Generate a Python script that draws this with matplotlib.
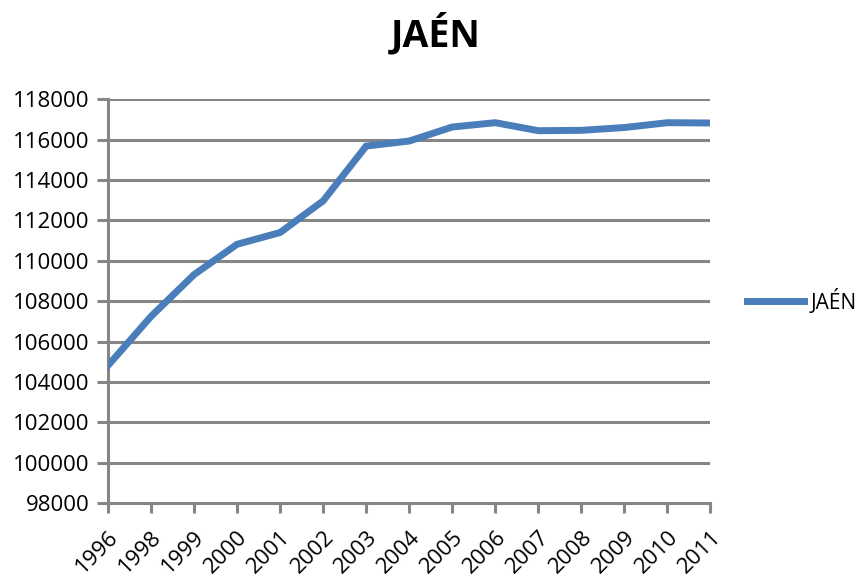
import matplotlib.pyplot as plt

years = ["1996", "1998", "1999", "2000", "2001", "2002", "2003", "2004",
         "2005", "2006", "2007", "2008", "2009", "2010", "2011"]
values = [104814, 107246, 109315, 110819, 111400, 112968, 115682, 115931,
          116625, 116839, 116442, 116460, 116600, 116839, 116824]
y_ticks = list(range(98000, 118001, 2000))

plt.rcParams['font.family'] = ['Open Sans', 'DejaVu Sans']
grid_color = "#868686"

fig = plt.figure(figsize=(8.57, 5.77), dpi=100)
ax = fig.add_axes([0.126, 0.128, 0.703, 0.700])

x = list(range(len(years)))
ax.plot(x, values, color="#4A7EBB", linewidth=5, label="JAÉN",
        solid_joinstyle="miter", zorder=3)

ax.set_xlim(0, len(years) - 1)
ax.set_ylim(98000, 118000)
ax.set_yticks(y_ticks)
ax.set_yticklabels([str(v) for v in y_ticks], fontsize=16)
ax.set_xticks(x)
ax.set_xticklabels(years, fontsize=16, rotation=45, ha="right",
                   rotation_mode="anchor")

ax.grid(True, axis="y", color=grid_color, linewidth=2.2)
ax.set_axisbelow(True)
for side in ("top", "right"):
    ax.spines[side].set_visible(False)
for side in ("left", "bottom"):
    ax.spines[side].set_color(grid_color)
    ax.spines[side].set_linewidth(2.2)
ax.tick_params(axis="y", length=8, width=2.2, color=grid_color, pad=5)
ax.tick_params(axis="x", length=7, width=2.2, color=grid_color, pad=10)

fig.text(0.508, 0.94, "JAÉN", fontsize=27, fontweight="bold",
         ha="center", va="center")

ax.legend(loc="center left", bbox_to_anchor=(1.03, 0.5), frameon=False,
          fontsize=15, handlelength=2.7, handletextpad=0.35)

fig.savefig("out.png", dpi=100)
